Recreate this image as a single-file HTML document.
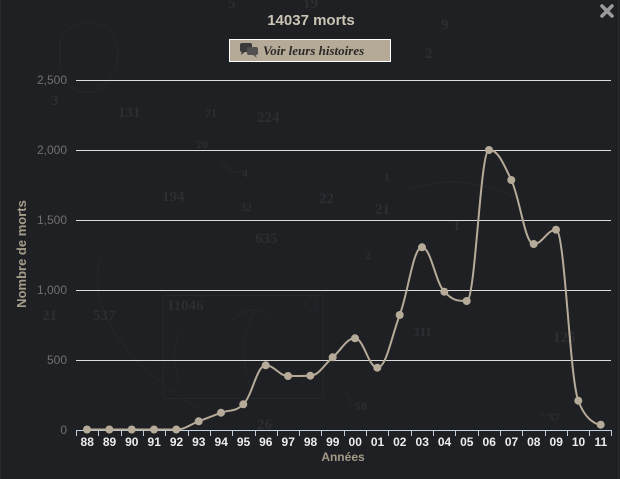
<!DOCTYPE html>
<html><head><meta charset="utf-8"><style>
html,body{margin:0;padding:0;background:#1f2024;}
svg{display:block;}
</style></head><body>
<svg width="620" height="479" viewBox="0 0 620 479" xmlns="http://www.w3.org/2000/svg">
<rect x="0" y="0" width="620" height="479" fill="#1f2024"/>
<line x1="0.5" y1="0" x2="0.5" y2="479" stroke="#2a2c30"/>
<line x1="618.5" y1="0" x2="618.5" y2="479" stroke="#2a2c30"/>
<!-- faint background map -->
<g fill="none" stroke="#25272b" stroke-width="1">
<rect x="163.5" y="295.5" width="160" height="103"/>
<circle cx="311" cy="304" r="6"/><line x1="315" y1="308" x2="320" y2="313"/>
<path d="M180 330 Q170 350 178 380"/>
<path d="M255 312 Q235 340 250 385"/>
<path d="M232 320 Q255 300 270 320"/>
<path d="M60 40 Q80 10 110 30 Q130 60 100 90 Q70 100 60 70 Z"/>
<path d="M220 160 L232 172 L245 172"/>
<path d="M345 392 L352 404 L360 406"/>
<path d="M540 415 L552 415"/>
<path d="M100 260 Q90 300 120 340 Q150 380 200 410"/>
<path d="M410 190 Q460 170 520 200"/>
</g>
<g font-family="'Liberation Serif',serif" font-weight="bold" font-size="15" fill="#2c2e32">
<text x="228" y="8">5</text><text x="303" y="8">19</text><text x="441" y="29">9</text>
<text x="425" y="58">2</text><text x="51" y="105">3</text><text x="118" y="117">131</text>
<text x="205" y="117" font-size="12">71</text><text x="257" y="122">224</text><text x="196" y="148" font-size="12">20</text>
<text x="242" y="177" font-size="12">4</text><text x="384" y="181" font-size="12">1</text><text x="162" y="201">194</text>
<text x="240" y="211" font-size="12">32</text><text x="319" y="203">22</text><text x="375" y="214">21</text>
<text x="453" y="230">1</text><text x="255" y="243">635</text><text x="365" y="259" font-size="12">2</text>
<text x="42" y="320">21</text><text x="93" y="320">537</text><text x="167" y="310">11046</text>
<text x="413" y="336" font-size="13">311</text><text x="553" y="342">125</text><text x="355" y="410" font-size="12">58</text>
<text x="548" y="421" font-size="12">37</text><text x="257" y="429">26</text>
</g>
<!-- title -->
<text x="311" y="25" text-anchor="middle" font-family="'Liberation Sans',sans-serif" font-weight="bold" font-size="15" fill="#cbc3b3">14037 morts</text>
<!-- button -->
<rect x="229.5" y="39.5" width="161" height="22" fill="#b4aa97" stroke="#ffffff" stroke-width="1"/>
<g fill="#3a3a3a">
<rect x="240" y="43" width="12" height="9" rx="2"/>
<path d="M242 51 L241 55 L246 51 Z"/>
<rect x="247" y="47" width="11" height="8" rx="2" fill="#505050"/>
<path d="M255 54 L257 58 L252 54 Z" fill="#505050"/>
</g>
<text x="263" y="55" font-family="'Liberation Serif',serif" font-style="italic" font-weight="bold" font-size="13" fill="#2a2826">Voir leurs histoires</text>
<!-- close -->
<g stroke="#9a9a9a" stroke-width="3.6" stroke-linecap="round">
<line x1="602" y1="6" x2="612" y2="16"/><line x1="612" y1="6" x2="602" y2="16"/>
</g>
<!-- grid -->
<g stroke="#dcdcdc" stroke-width="1">
<line x1="76" y1="80.5" x2="611" y2="80.5"/>
<line x1="76" y1="150.5" x2="611" y2="150.5"/>
<line x1="76" y1="220.5" x2="611" y2="220.5"/>
<line x1="76" y1="290.5" x2="611" y2="290.5"/>
<line x1="76" y1="360.5" x2="611" y2="360.5"/>
</g>
<g font-family="'Liberation Sans',sans-serif" font-size="12" fill="#707070" text-anchor="end">
<text x="67" y="84">2,500</text><text x="67" y="154">2,000</text><text x="67" y="224">1,500</text>
<text x="67" y="294">1,000</text><text x="67" y="364">500</text><text x="67" y="434">0</text>
</g>
<text transform="translate(26,254) rotate(-90)" text-anchor="middle" font-family="'Liberation Sans',sans-serif" font-weight="bold" font-size="13" fill="#a69d8b">Nombre de morts</text>
<!-- x axis -->
<line x1="76" y1="430.5" x2="612" y2="430.5" stroke="#c0d0e0" stroke-width="1"/>
<path stroke="#c0d0e0" stroke-width="1" fill="none" d="M76.5 430V436M98.5 430V436M121.5 430V436M143.5 430V436M165.5 430V436M188.5 430V436M210.5 430V436M232.5 430V436M255.5 430V436M277.5 430V436M299.5 430V436M321.5 430V436M344.5 430V436M366.5 430V436M388.5 430V436M411.5 430V436M433.5 430V436M455.5 430V436M478.5 430V436M500.5 430V436M522.5 430V436M545.5 430V436M567.5 430V436M589.5 430V436M611.5 430V436"/>
<g font-family="'Liberation Sans',sans-serif" font-weight="bold" font-size="12" fill="#ececec" text-anchor="middle">
<text x="87.2" y="446">88</text><text x="109.5" y="446">89</text><text x="131.8" y="446">90</text><text x="154.2" y="446">91</text>
<text x="176.5" y="446">92</text><text x="198.8" y="446">93</text><text x="221.2" y="446">94</text><text x="243.5" y="446">95</text>
<text x="265.8" y="446">96</text><text x="288.2" y="446">97</text><text x="310.5" y="446">98</text><text x="332.8" y="446">99</text>
<text x="355.2" y="446">00</text><text x="377.5" y="446">01</text><text x="399.8" y="446">02</text><text x="422.2" y="446">03</text>
<text x="444.5" y="446">04</text><text x="466.8" y="446">05</text><text x="489.2" y="446">06</text><text x="511.5" y="446">07</text>
<text x="533.8" y="446">08</text><text x="556.2" y="446">09</text><text x="578.5" y="446">10</text><text x="600.8" y="446">11</text>
</g>
<text x="343" y="461" text-anchor="middle" font-family="'Liberation Sans',sans-serif" font-weight="bold" font-size="12" fill="#a39a88">Années</text>
<!-- series -->
<path fill="none" stroke="#b5ab98" stroke-width="2" stroke-linejoin="round" d="M87 429.5 C87 429.5 100.4 429.5 109.3 429.5 C118.2 429.5 122.8 429.5 131.7 429.5 C140.6 429.5 145.1 429.5 154 429.5 C162.9 429.5 167.4 429.5 176.3 429.5 C185.2 429.5 189.8 424.66 198.7 421.3 C207.6 417.94 212.1 416.1 221 412.7 C229.9 409.3 234.4 412.7 243.3 404.3 C252.2 395.9 256.8 365.3 265.7 365.3 C274.6 365.3 279.1 376 288 376 C296.9 376 301.4 376 310.3 375.7 C319.2 375.4 323.8 364.78 332.7 357.3 C341.6 349.82 346.1 338.3 355 338.3 C363.9 338.3 368.4 367.7 377.3 367.7 C386.2 367.7 390.8 339.08 399.7 315 C408.6 290.92 413.1 247.3 422 247.3 C430.9 247.3 435.4 282.4 444.3 291.7 C453.2 301 457.8 301 466.7 301 C475.6 301 480.1 150 489 150 C497.9 150 502.4 161.2 511.3 180 C520.2 198.8 524.8 244 533.7 244 C542.6 244 547.1 229.7 556 229.7 C564.9 229.7 569.4 376.7 578.3 400.7 C587.2 424.7 600.7 424.7 600.7 424.7"/>
<g fill="#b5ab98">
<circle cx="87" cy="429.5" r="4"/><circle cx="109.3" cy="429.5" r="4"/><circle cx="131.7" cy="429.5" r="4"/><circle cx="154" cy="429.5" r="4"/>
<circle cx="176.3" cy="429.5" r="4"/><circle cx="198.7" cy="421.3" r="4"/><circle cx="221" cy="412.7" r="4"/><circle cx="243.3" cy="404.3" r="4"/>
<circle cx="265.7" cy="365.3" r="4"/><circle cx="288" cy="376" r="4"/><circle cx="310.3" cy="375.7" r="4"/><circle cx="332.7" cy="357.3" r="4"/>
<circle cx="355" cy="338.3" r="4"/><circle cx="377.3" cy="367.7" r="4"/><circle cx="399.7" cy="315" r="4"/><circle cx="422" cy="247.3" r="4"/>
<circle cx="444.3" cy="291.7" r="4"/><circle cx="466.7" cy="301" r="4"/><circle cx="489" cy="150" r="4"/><circle cx="511.3" cy="180" r="4"/>
<circle cx="533.7" cy="244" r="4"/><circle cx="556" cy="229.7" r="4"/><circle cx="578.3" cy="400.7" r="4"/><circle cx="600.7" cy="424.7" r="4"/>
</g>
</svg>
</body></html>
